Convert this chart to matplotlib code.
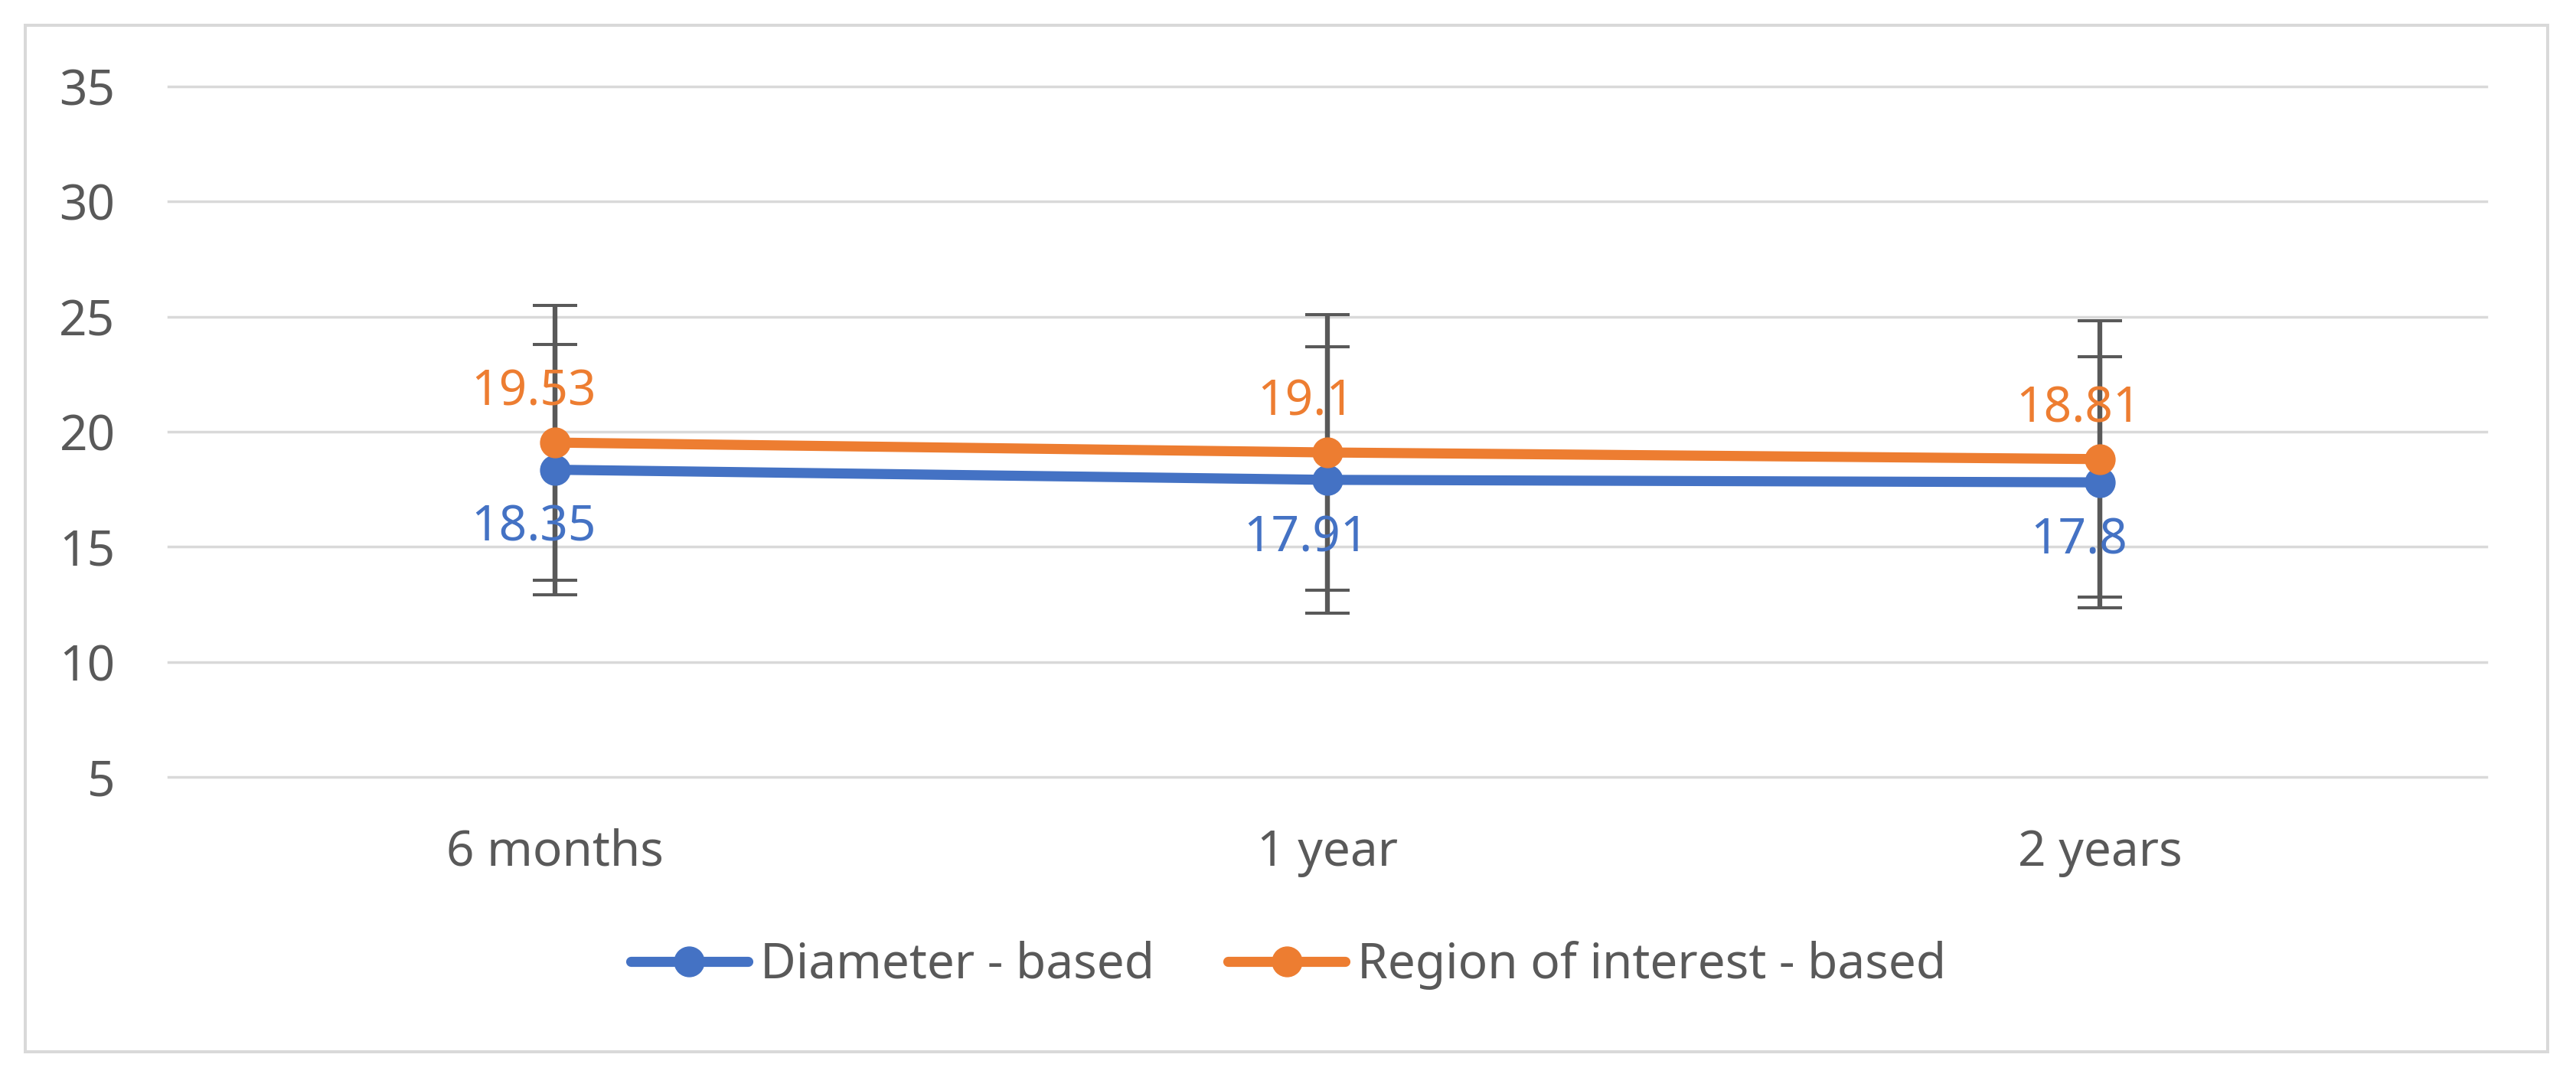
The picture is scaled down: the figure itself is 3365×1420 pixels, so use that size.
import matplotlib
matplotlib.use('Agg')
import matplotlib.pyplot as plt
from matplotlib.patches import Rectangle
import numpy as np

# data
categories = ["6 months", "1 year", "2 years"]
diameter = [18.35, 17.91, 17.8]
diameter_err = [5.43, 5.78, 5.46]
roi = [19.53, 19.1, 18.81]
roi_err = [5.97, 5.98, 6.0]
yticks = [5, 10, 15, 20, 25, 30, 35]

BLUE = "#4472C4"
ORANGE = "#ED7D31"
GREY = "#595959"
GRID = "#D9D9D9"

plt.rcParams['font.family'] = ['Noto Sans', 'DejaVu Sans']
FS = 46

W, H = 3366, 1420
fig = plt.figure(figsize=(W / 100, H / 100), dpi=100)

# light frame around the whole chart
fig.patches.append(Rectangle((33 / W, 1 - 1374 / H), (3328 - 33) / W, (1374 - 33) / H,
                             transform=fig.transFigure, fill=False,
                             edgecolor=GRID, linewidth=2.9))

ax = fig.add_axes([220 / W, 1 - 1015 / H, 3028 / W, (1015 - 113) / H])
x = np.arange(len(categories))

# error bars first so the markers sit on top
ax.errorbar(x, diameter, yerr=diameter_err, fmt='none', ecolor=GREY,
            elinewidth=4.5, capsize=21, capthick=2.9, zorder=2)
ax.errorbar(x, roi, yerr=roi_err, fmt='none', ecolor=GREY,
            elinewidth=4.5, capsize=21, capthick=2.9, zorder=2)

ax.plot(x, diameter, color=BLUE, lw=9.5, marker='o', ms=28,
        solid_capstyle='round', label="Diameter - based", zorder=3)
ax.plot(x, roi, color=ORANGE, lw=9.5, marker='o', ms=28,
        solid_capstyle='round', label="Region of interest - based", zorder=4)

for xi, v in zip(x, roi):
    ax.annotate(f"{v:g}", (xi, v), xytext=(-20, 47), textcoords='offset points',
                ha='center', va='center', color=ORANGE, fontsize=FS, zorder=5)
for xi, v in zip(x, diameter):
    ax.annotate(f"{v:g}", (xi, v), xytext=(-20, -55), textcoords='offset points',
                ha='center', va='center', color=BLUE, fontsize=FS, zorder=5)

ax.set_xlim(-0.5, len(categories) - 0.5)
ax.set_ylim(5, 35)
ax.set_yticks(yticks)
ax.set_xticks(x)
ax.set_xticklabels(categories)
ax.tick_params(axis='both', length=0, labelsize=FS, colors=GREY)
ax.tick_params(axis='y', pad=50)
ax.tick_params(axis='x', pad=48)
ax.grid(axis='y', color=GRID, linewidth=2.5, zorder=0)
for gl in ax.get_ygridlines():
    gl.set_clip_on(False)
ax.set_axisbelow(True)
for s in ax.spines.values():
    s.set_visible(False)

fig.legend(loc='center', bbox_to_anchor=(0.5, 1 - 1261 / H), ncol=2, frameon=False,
           fontsize=FS, handlelength=2.4, handletextpad=0.25, columnspacing=1.5,
           labelcolor=GREY, borderaxespad=0)

fig.savefig("out.png", dpi=100)
